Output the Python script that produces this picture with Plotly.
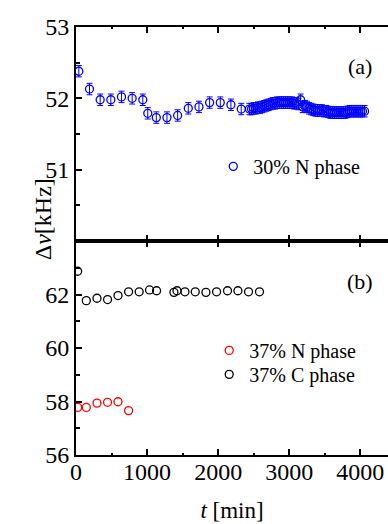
import plotly.graph_objects as go

# ---- Panel (a): 30% N phase ----
t_a = [40, 190, 340, 490, 640, 790, 940, 1010, 1130, 1280, 1430, 1580, 1730, 1880, 2030, 2180, 2325,
       2440, 2470, 2500, 2530, 2560, 2590, 2620, 2650, 2680, 2710, 2740, 2770, 2800, 2830, 2860, 2890,
       2920, 2950, 2980, 3010, 3040, 3070, 3100, 3130, 3160, 3190, 3220, 3250, 3280, 3310, 3340, 3370,
       3400, 3430, 3460, 3490, 3520, 3550, 3580, 3610, 3640, 3670, 3700, 3730, 3760, 3790, 3820, 3850,
       3880, 3910, 3940, 3970, 4000, 4030, 4060]
dv_a = [52.38, 52.13, 51.98, 51.98, 52.02, 52.00, 51.98, 51.79, 51.73, 51.73, 51.76, 51.86, 51.88, 51.94, 51.94, 51.91, 51.85,
        51.85, 51.85, 51.86, 51.86, 51.87, 51.87, 51.88, 51.89, 51.90, 51.91, 51.92, 51.93, 51.93, 51.94, 51.94, 51.94,
        51.94, 51.94, 51.94, 51.94, 51.94, 51.93, 51.93, 51.92, 51.98, 51.88, 51.89, 51.88, 51.86, 51.85, 51.84, 51.83,
        51.83, 51.83, 51.83, 51.82, 51.82, 51.81, 51.80, 51.80, 51.80, 51.80, 51.80, 51.80, 51.80, 51.80, 51.81, 51.82,
        51.82, 51.82, 51.82, 51.82, 51.82, 51.82, 51.82]
err_a = 0.08

# ---- Panel (b) ----
t_bN = [23, 145, 295, 444, 591, 740]
dv_bN = [57.78, 57.78, 57.94, 57.97, 57.99, 57.66]
t_bC = [23, 145, 295, 444, 591, 740, 889, 1035, 1134, 1378, 1421, 1533, 1678, 1828, 1978, 2132, 2278, 2428, 2582]
dv_bC = [62.87, 61.77, 61.86, 61.81, 61.96, 62.10, 62.10, 62.17, 62.14, 62.08, 62.14, 62.10, 62.10, 62.08,
         62.10, 62.14, 62.14, 62.10, 62.10]

x_ticks = [0, 1000, 2000, 3000, 4000]
ya_ticks = [51, 52, 53]
yb_ticks = [56, 58, 60, 62]

FONT = "Liberation Serif"
BLUE = "#0000ff"
RED = "#ff0000"
BLACK = "#000000"

fig = go.Figure()
fig.add_trace(go.Scatter(
    x=t_a, y=dv_a, mode="markers", name="30% N phase",
    marker=dict(symbol="circle-open", size=8, color=BLUE, line=dict(width=1.3, color=BLUE)),
    error_y=dict(type="constant", value=err_a, color=BLUE, thickness=1, width=3),
    xaxis="x2", yaxis="y2", legend="legend"))
fig.add_trace(go.Scatter(
    x=t_bN, y=dv_bN, mode="markers", name="37% N phase",
    marker=dict(symbol="circle-open", size=8, color=RED, line=dict(width=1.3, color=RED)),
    xaxis="x", yaxis="y", legend="legend2"))
fig.add_trace(go.Scatter(
    x=t_bC, y=dv_bC, mode="markers", name="37% C phase",
    marker=dict(symbol="circle-open", size=8, color=BLACK, line=dict(width=1.3, color=BLACK)),
    xaxis="x", yaxis="y", legend="legend3"))

axis_common = dict(showline=True, linecolor="black", linewidth=2, ticks="inside", ticklen=6,
                   tickwidth=1.5, tickcolor="black", showgrid=False, zeroline=False,
                   tickfont=dict(family=FONT, size=24, color="black"))

legend_common = dict(xanchor="left", yanchor="top", bgcolor="rgba(0,0,0,0)",
                     font=dict(family=FONT, size=20, color="black"), borderwidth=0)

xr = [0, 4390]
fig.update_layout(
    width=388, height=524,
    margin=dict(l=76, r=0, t=27, b=69),
    paper_bgcolor="white", plot_bgcolor="white",
    font=dict(family=FONT, color="black"),
    xaxis=dict(domain=[0, 1], anchor="y", range=xr, tickvals=x_ticks, mirror="allticks",
               ticklabelstandoff=-6,
               minor=dict(dtick=500, ticklen=2, ticks="inside", tickcolor="black"),
               title=dict(text="<i>t</i> [min]", font=dict(family=FONT, size=23), standoff=18),
               **axis_common),
    xaxis2=dict(domain=[0, 1], anchor="y2", range=xr, tickvals=x_ticks, mirror="allticks",
                showticklabels=False, matches="x",
                minor=dict(dtick=500, ticklen=2, ticks="inside", tickcolor="black"),
                **axis_common),
    yaxis=dict(domain=[0, 0.5], anchor="x", range=[56, 64], tickvals=yb_ticks,
               minor=dict(tickvals=[57, 59, 61, 63], ticklen=4, ticks="inside", tickcolor="black"),
               **axis_common),
    yaxis2=dict(domain=[0.5, 1], anchor="x2", range=[50, 53], tickvals=ya_ticks,
                minor=dict(tickvals=[50.5, 51.5, 52.5], ticklen=4, ticks="inside", tickcolor="black"),
                **axis_common),
    legend=dict(x=0.44, y=0.72, **legend_common),
    legend2=dict(x=0.427, y=0.29, **legend_common),
    legend3=dict(x=0.427, y=0.234, **legend_common),
    showlegend=True,
    annotations=[
        dict(text="(a)", x=4000, y=52.45, xref="x2", yref="y2", showarrow=False,
             font=dict(family=FONT, size=22, color="black")),
        dict(text="(b)", x=4000, y=62.5, xref="x", yref="y", showarrow=False,
             font=dict(family=FONT, size=22, color="black")),
        dict(text="Δ<i>ν</i>[kHz]", x=-0.155, y=0.55, xref="paper", yref="paper", showarrow=False,
             textangle=-90, font=dict(family=FONT, size=24, color="black")),
    ],
)
fig.write_html("out.html", config={"displayModeBar": False},
               post_script="document.body.style.margin='0';")
